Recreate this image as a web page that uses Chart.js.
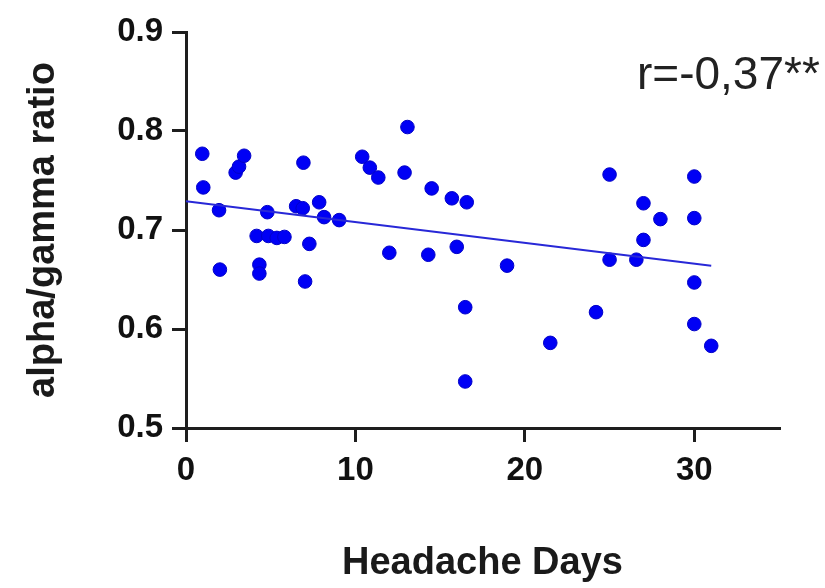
<!DOCTYPE html>
<html>
<head>
<meta charset="utf-8">
<script src="https://cdn.jsdelivr.net/npm/chart.js@4.4.1/dist/chart.umd.min.js"></script>
<style>
  body { margin: 0; background: #fff; }
  canvas { display: block; }
</style>
</head>
<body>
<canvas id="scatter" width="825" height="588"></canvas>
<script>
// headache days vs alpha/gamma ratio
const headacheDays = [0.96, 1.02, 1.95, 2.0, 2.93, 3.13, 3.43, 4.17, 4.33, 4.33,
    4.8, 4.86, 5.36, 5.81, 6.5, 6.89, 6.93, 7.03, 7.28, 7.86,
    8.15, 9.04, 10.4, 10.85, 11.35, 12.0, 12.9, 13.07, 14.3, 14.5,
    15.69, 15.98, 16.48, 16.48, 16.57, 18.95, 21.5, 24.2, 25.0, 25.0,
    26.58, 27.0, 27.0, 28.0, 30.0, 30.0, 30.0, 30.0, 31.0];
const ratioValues = [0.777, 0.743, 0.720, 0.660, 0.758, 0.764, 0.775, 0.694, 0.665, 0.656,
    0.718, 0.694, 0.692, 0.693, 0.724, 0.722, 0.768, 0.648, 0.686, 0.728,
    0.713, 0.710, 0.774, 0.763, 0.753, 0.677, 0.758, 0.804, 0.675, 0.742,
    0.732, 0.683, 0.622, 0.547, 0.728, 0.664, 0.586, 0.617, 0.756, 0.670,
    0.670, 0.727, 0.690, 0.711, 0.754, 0.712, 0.647, 0.605, 0.583];

// fitted line end points
const fitDays = [0, 31];
const fitRatio = [0.729, 0.664];

const xTicks = [0, 10, 20, 30];
const yTicks = [0.5, 0.6, 0.7, 0.8, 0.9];
const corrLabel = 'r=-0,37**';

const fontFamily = "'Liberation Sans', Arial, sans-serif";
const axisColor = '#1e1e1e';

var points = headacheDays.map((d, i) => ({x: d, y: ratioValues[i]}));
var fitPoints = fitDays.map((d, i) => ({x: d, y: fitRatio[i]}));

const corrText = {
    id: 'corrText',
    afterDraw(chart) {
        const ctx = chart.ctx;
        const area = chart.chartArea;
        ctx.save();
        ctx.font = '46px ' + fontFamily;
        ctx.fillStyle = '#222';
        ctx.textAlign = 'left';
        ctx.textBaseline = 'alphabetic';
        ctx.fillText(corrLabel, area.right - 142, area.top + 57);
        ctx.restore();
    }
};

var myChart = new Chart(document.getElementById('scatter').getContext('2d'), {
    type: 'scatter',
    data: {
        datasets: [{
            label: 'fit',
            type: 'line',
            data: fitPoints,
            borderColor: 'rgb(40, 40, 215)',
            borderWidth: 2,
            pointRadius: 0,
            fill: false,
            clip: false
        }, {
            label: 'subjects',
            data: points,
            backgroundColor: 'rgb(0, 0, 245)',
            borderColor: 'rgb(0, 0, 200)',
            borderWidth: 1,
            pointRadius: 6.8,
            clip: false
        }]
    },
    options: {
        responsive: false,
        animation: false,
        layout: {
            padding: {top: 32, right: 46, left: 0, bottom: 0}
        },
        plugins: {
            legend: {display: false},
            tooltip: {enabled: false}
        },
        scales: {
            x: {
                type: 'linear',
                min: 0,
                max: 35,
                afterBuildTicks: (scale) => { scale.ticks = xTicks.map(v => ({value: v})); },
                afterFit: (scale) => { scale.height = 160; },
                border: {display: true, color: axisColor, width: 3},
                grid: {
                    display: true,
                    drawOnChartArea: false,
                    drawTicks: true,
                    tickLength: 14,
                    color: axisColor,
                    lineWidth: 3
                },
                ticks: {
                    color: '#111',
                    padding: 9,
                    font: {family: fontFamily, size: 33, weight: 'bold'}
                },
                title: {
                    display: true,
                    text: 'Headache Days',
                    color: '#1a1a1a',
                    padding: {top: 0, bottom: 2},
                    font: {family: fontFamily, size: 38, weight: 'bold'}
                }
            },
            y: {
                type: 'linear',
                min: 0.5,
                max: 0.9,
                afterBuildTicks: (scale) => { scale.ticks = yTicks.map(v => ({value: v})); },
                afterFit: (scale) => { scale.width = 186; },
                border: {display: true, color: axisColor, width: 3},
                grid: {
                    display: true,
                    drawOnChartArea: false,
                    drawTicks: true,
                    tickLength: 14,
                    color: axisColor,
                    lineWidth: 3
                },
                ticks: {
                    color: '#111',
                    padding: 9,
                    font: {family: fontFamily, size: 33, weight: 'bold'},
                    callback: (v) => v.toFixed(1)
                },
                title: {
                    display: true,
                    text: 'alpha/gamma ratio',
                    color: '#1a1a1a',
                    padding: {top: 21, bottom: 0},
                    font: {family: fontFamily, size: 38, weight: 'bold'}
                }
            }
        }
    },
    plugins: [corrText]
});
</script>
</body>
</html>
